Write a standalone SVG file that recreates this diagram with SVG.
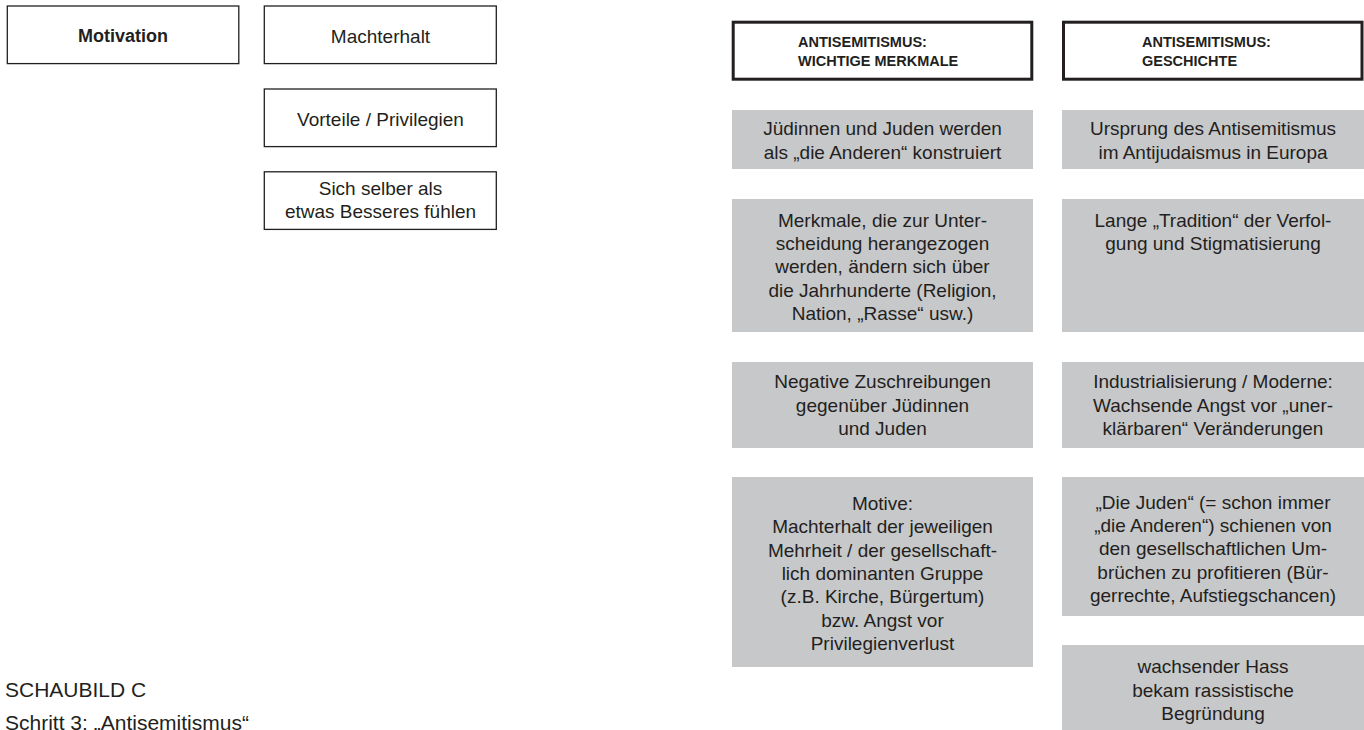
<svg xmlns="http://www.w3.org/2000/svg" width="1364" height="730" viewBox="0 0 1364 730">
<style>
  text { font-family: "Liberation Sans", Arial, sans-serif; fill: #231f20; }
  .ob { fill: #ffffff; stroke: #231f20; stroke-width: 1.3; }
  .hb { fill: #ffffff; stroke: #231f20; stroke-width: 3; }
  .gb { fill: #c7c8ca; }
  .t { font-size: 19px; text-anchor: middle; }
  .tb { font-size: 18px; font-weight: bold; text-anchor: middle; }
  .h { font-size: 14.5px; font-weight: bold; }
  .cap { font-size: 21px; }
</style>
<rect width="1364" height="730" fill="#ffffff"/>

<g id="motivation">
  <rect class="ob" x="7.3" y="6" width="231.5" height="57.6"/>
  <text class="tb" x="123" y="42">Motivation</text>
</g>
<g id="machterhalt">
  <rect class="ob" x="264.3" y="6" width="232" height="57.6"/>
  <text class="t" x="380.5" y="42.5">Machterhalt</text>
</g>
<g id="vorteile">
  <rect class="ob" x="264.3" y="89" width="232" height="57.6"/>
  <text class="t" x="380.5" y="125.5">Vorteile / Privilegien</text>
</g>
<g id="besseres">
  <rect class="ob" x="264.3" y="171.8" width="232" height="57.6"/>
  <text class="t" x="380.5" y="195">Sich selber als</text>
  <text class="t" x="380.5" y="218">etwas Besseres fühlen</text>
</g>

<g id="header-merkmale">
  <rect class="hb" x="733.2" y="22.2" width="298.6" height="57"/>
  <text class="h" x="798" y="46.5">ANTISEMITISMUS:</text>
  <text class="h" x="798" y="65.5">WICHTIGE MERKMALE</text>
</g>
<g id="header-geschichte">
  <rect class="hb" x="1063.5" y="22.2" width="298.5" height="57"/>
  <text class="h" x="1142" y="46.5">ANTISEMITISMUS:</text>
  <text class="h" x="1142" y="65.5">GESCHICHTE</text>
</g>

<g id="m1">
  <rect class="gb" x="732" y="110" width="301" height="59"/>
  <text class="t" x="882.5" y="135">Jüdinnen und Juden werden</text>
  <text class="t" x="882.5" y="159">als „die Anderen“ konstruiert</text>
</g>
<g id="m2">
  <rect class="gb" x="732" y="199" width="301" height="133"/>
  <text class="t" x="882.5" y="227">Merkmale, die zur Unter-</text>
  <text class="t" x="882.5" y="250">scheidung herangezogen</text>
  <text class="t" x="882.5" y="273">werden, ändern sich über</text>
  <text class="t" x="882.5" y="297">die Jahrhunderte (Religion,</text>
  <text class="t" x="882.5" y="320">Nation, „Rasse“ usw.)</text>
</g>
<g id="m3">
  <rect class="gb" x="732" y="362" width="301" height="86"/>
  <text class="t" x="882.5" y="388">Negative Zuschreibungen</text>
  <text class="t" x="882.5" y="412">gegenüber Jüdinnen</text>
  <text class="t" x="882.5" y="435">und Juden</text>
</g>
<g id="m4">
  <rect class="gb" x="732" y="477" width="301" height="190"/>
  <text class="t" x="882.5" y="510">Motive:</text>
  <text class="t" x="882.5" y="533">Machterhalt der jeweiligen</text>
  <text class="t" x="882.5" y="557">Mehrheit / der gesellschaft-</text>
  <text class="t" x="882.5" y="580">lich dominanten Gruppe</text>
  <text class="t" x="882.5" y="603">(z.B. Kirche, Bürgertum)</text>
  <text class="t" x="882.5" y="627">bzw. Angst vor</text>
  <text class="t" x="882.5" y="650">Privilegienverlust</text>
</g>

<g id="g1">
  <rect class="gb" x="1062" y="110" width="302" height="59"/>
  <text class="t" x="1213" y="135">Ursprung des Antisemitismus</text>
  <text class="t" x="1213" y="159">im Antijudaismus in Europa</text>
</g>
<g id="g2">
  <rect class="gb" x="1062" y="199" width="302" height="133"/>
  <text class="t" x="1213" y="227">Lange „Tradition“ der Verfol-</text>
  <text class="t" x="1213" y="250">gung und Stigmatisierung</text>
</g>
<g id="g3">
  <rect class="gb" x="1062" y="362" width="302" height="86"/>
  <text class="t" x="1213" y="388">Industrialisierung / Moderne:</text>
  <text class="t" x="1213" y="412">Wachsende Angst vor „uner-</text>
  <text class="t" x="1213" y="435">klärbaren“ Veränderungen</text>
</g>
<g id="g4">
  <rect class="gb" x="1062" y="477" width="302" height="139"/>
  <text class="t" x="1213" y="509">„Die Juden“ (= schon immer</text>
  <text class="t" x="1213" y="532">„die Anderen“) schienen von</text>
  <text class="t" x="1213" y="555">den gesellschaftlichen Um-</text>
  <text class="t" x="1213" y="579">brüchen zu profitieren (Bür-</text>
  <text class="t" x="1213" y="602">gerrechte, Aufstiegschancen)</text>
</g>
<g id="g5">
  <rect class="gb" x="1062" y="645" width="302" height="85"/>
  <text class="t" x="1213" y="673">wachsender Hass</text>
  <text class="t" x="1213" y="697">bekam rassistische</text>
  <text class="t" x="1213" y="720">Begründung</text>
</g>

<g id="caption">
  <text class="cap" x="5" y="697">SCHAUBILD C</text>
  <text class="cap" x="5" y="730">Schritt 3: „Antisemitismus“</text>
</g>
<g id="connectors"></g>
</svg>
